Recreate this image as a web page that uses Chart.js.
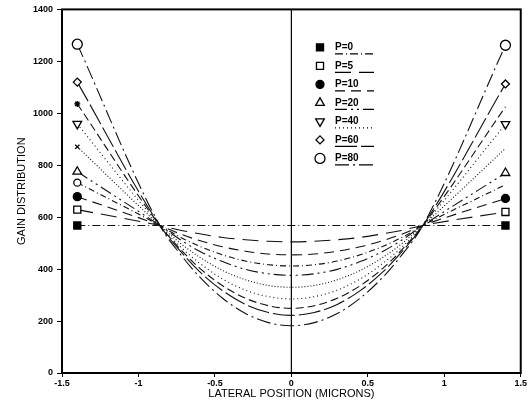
<!DOCTYPE html>
<html>
<head>
<meta charset="utf-8">
<script src="https://cdn.jsdelivr.net/npm/chart.js@4.4.1/dist/chart.umd.min.js"></script>
<style>
  html, body { margin: 0; padding: 0; background: #fff; }
</style>
</head>
<body>
<canvas id="gain" width="528" height="409"></canvas>
<script>
const positions = [-1.4, -0.86, -0.72, -0.6, -0.45, -0.3, -0.15, 0, 0.15, 0.3, 0.45, 0.6, 0.72, 0.86, 1.4];

// gain distribution per pump level
const p0  = [568, 568, 568, 568, 568, 568, 568, 568, 568, 568, 568, 568, 568, 568, 568];
const p5  = [629, 568, 549, 536, 522, 513, 507, 505, 507, 513, 522, 536, 549, 568, 620];
const p10 = [679, 568, 534, 510, 486, 469, 458, 455, 458, 469, 486, 510, 534, 568, 672];
const p15 = [733, 568, 521, 488, 455, 431, 417, 412, 417, 431, 455, 488, 521, 568, 725];
const p20 = [775, 568, 511, 469, 429, 399, 382, 376, 382, 399, 429, 469, 511, 568, 770];
const p30 = [871, 568, 497, 446, 395, 359, 337, 330, 337, 359, 395, 446, 497, 568, 865];
const p40 = [959, 568, 483, 423, 362, 319, 294, 285, 294, 319, 362, 423, 483, 568, 958];
const p50 = [1036, 568, 473, 404, 336, 288, 259, 249, 259, 288, 336, 404, 473, 568, 1025];
const p60 = [1120, 568, 465, 390, 317, 264, 233, 222, 233, 264, 317, 390, 465, 568, 1113];
const p80 = [1266, 568, 453, 370, 288, 229, 194, 182, 194, 229, 288, 370, 453, 568, 1262];

// vertical reference line at x = 0
const centerX = [0, 0];
const centerY = [0, 1400];

const xTicks = [-1.5, -1, -0.5, 0, 0.5, 1, 1.5];
const yTicks = [0, 200, 400, 600, 800, 1000, 1200, 1400];

const toPoints = (xs, ys) => xs.map((x, i) => ({ x: x, y: ys[i] }));

// marker only at the ends (extras only on the left)
const ends = (r) => positions.map((x, i) => (i === 0 || i === positions.length - 1) ? r : 0);
const leftOnly = (r) => positions.map((x, i) => i === 0 ? r : 0);

function curve(label, values, dash, style, radius, filled, rotation, radii) {
  return {
    label: label,
    data: toPoints(positions, values),
    borderColor: '#111',
    borderWidth: 1.1,
    borderDash: dash,
    cubicInterpolationMode: 'monotone',
    pointStyle: style,
    pointRotation: rotation || 0,
    pointRadius: radii || ends(radius),
    pointBorderWidth: 1.3,
    pointBorderColor: '#000',
    pointBackgroundColor: filled ? '#000' : '#fff',
    markRadius: radius,
    markFilled: filled
  };
}

const datasets = [
  curve('P=0', p0, [8, 3, 1, 3], 'rect', 5, true),
  curve('P=5', p5, [16, 8], 'rect', 5, false),
  curve('P=10', p10, [10, 6], 'circle', 4, true),
  curve('', p15, [6, 3, 1, 3], 'circle', 3.5, false, 0, leftOnly(3.5)),
  curve('P=20', p20, [12, 4, 2, 4, 2, 4], 'triangle', 5, false),
  curve('', p30, [1, 2], 'crossRot', 3, false, 0, leftOnly(3)),
  curve('P=40', p40, [1, 3], 'triangle', 5, false, 180),
  curve('', p50, [8, 4], 'star', 3, false, 0, leftOnly(3)),
  curve('P=60', p60, [22, 4], 'rectRot', 4, false),
  curve('P=80', p80, [14, 4, 2, 4], 'circle', 5, false),
  {
    label: '',
    data: toPoints(centerX, centerY),
    borderColor: '#000',
    borderWidth: 1.2,
    pointRadius: 0
  }
];

const legendEntries = [0, 1, 2, 4, 6, 8, 9];

const legendBox = {
  id: 'legendBox',
  afterDatasetsDraw(chart) {
    const ctx = chart.ctx;
    const area = chart.chartArea;
    const mx = area.left + 258;
    const tx = area.left + 273;
    ctx.save();
    legendEntries.forEach((idx, i) => {
      const ds = chart.data.datasets[idx];
      const y = area.top + 38 + i * 18.5;
      ctx.setLineDash([]);
      ctx.fillStyle = ds.markFilled ? '#000' : '#fff';
      ctx.strokeStyle = '#000';
      ctx.lineWidth = 1.3;
      Chart.helpers.drawPoint(ctx, {
        pointStyle: ds.pointStyle,
        rotation: ds.pointRotation,
        radius: ds.markRadius,
        borderWidth: 1.3
      }, mx, y);
      ctx.fillStyle = '#000';
      ctx.font = 'bold 10px "Liberation Sans"';
      ctx.textBaseline = 'middle';
      ctx.textAlign = 'left';
      ctx.fillText(ds.label, tx, y);
      ctx.beginPath();
      ctx.setLineDash(ds.borderDash);
      ctx.lineWidth = 1.1;
      ctx.moveTo(tx, y + 6.5);
      ctx.lineTo(tx + 39, y + 6.5);
      ctx.stroke();
    });
    ctx.restore();
  }
};

const frame = {
  id: 'frame',
  afterDraw(chart) {
    const { ctx, chartArea: a } = chart;
    ctx.save();
    ctx.strokeStyle = '#000';
    ctx.lineWidth = 2;
    ctx.strokeRect(a.left, a.top, a.right - a.left, a.bottom - a.top);
    ctx.restore();
  }
};

new Chart(document.getElementById('gain'), {
  type: 'line',
  data: { datasets: datasets },
  plugins: [legendBox, frame],
  options: {
    responsive: false,
    animation: false,
    events: [],
    layout: { padding: { top: 8, right: 6, left: 0, bottom: 0 } },
    plugins: { legend: { display: false }, tooltip: { enabled: false } },
    scales: {
      x: {
        type: 'linear',
        min: -1.5,
        max: 1.5,
        afterBuildTicks: (s) => { s.ticks = xTicks.map(v => ({ value: v })); },
        afterFit: (s) => { s.height = 36; },
        grid: { drawOnChartArea: false, tickLength: 4, color: '#000' },
        border: { display: false },
        ticks: {
          color: '#000',
          padding: 1,
          font: { family: 'Liberation Sans', size: 9, weight: 'bold' },
          callback: (v) => String(v)
        },
        title: {
          display: true,
          text: 'LATERAL POSITION (MICRONS)',
          color: '#000',
          font: { family: 'Liberation Sans', size: 11 },
          padding: { top: 0, bottom: 8 }
        }
      },
      y: {
        min: 0,
        max: 1400,
        afterBuildTicks: (s) => { s.ticks = yTicks.map(v => ({ value: v })); },
        afterFit: (s) => { s.width = 62; },
        grid: { drawOnChartArea: false, tickLength: 5, color: '#000' },
        border: { display: false },
        ticks: {
          color: '#000',
          padding: 4,
          font: { family: 'Liberation Sans', size: 9, weight: 'bold' },
          callback: (v) => String(v)
        },
        title: {
          display: true,
          text: 'GAIN DISTRIBUTION',
          color: '#000',
          font: { family: 'Liberation Sans', size: 11 },
          padding: { top: 15, bottom: 0 }
        }
      }
    }
  }
});
</script>
</body>
</html>
